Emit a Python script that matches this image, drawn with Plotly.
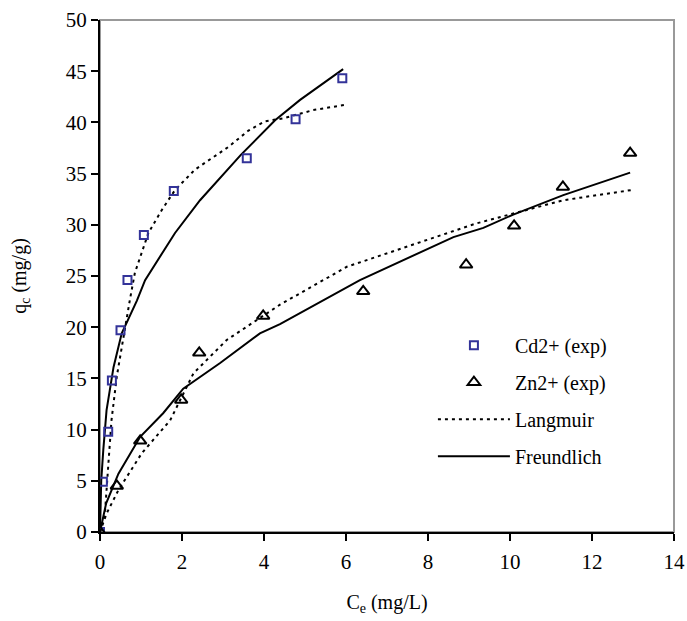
import plotly.graph_objects as go

# Experimental data
cd_x = [0, 0.07, 0.2, 0.29, 0.5, 0.67, 1.07, 1.8, 3.58, 4.77, 5.91]
cd_y = [0, 4.9, 9.8, 14.8, 19.7, 24.6, 29.0, 33.3, 36.5, 40.3, 44.3]
zn_x = [0, 0.41, 0.98, 1.98, 2.42, 3.98, 6.42, 8.93, 10.1, 11.29, 12.93]
zn_y = [0, 4.5, 8.9, 12.9, 17.5, 21.1, 23.5, 26.1, 29.9, 33.7, 37.0]

# Model curves
cd_lang_x = [0, 0.12, 0.2, 0.28, 0.41, 0.57, 0.73, 0.85, 1.18, 1.5, 1.83, 2.32, 3.13, 3.62, 4.02, 4.47, 5.2, 5.95]
cd_lang_y = [0, 1.8, 6.4, 10.9, 15.2, 19.1, 22.7, 25.3, 29.2, 31.4, 33.4, 35.4, 37.6, 39.2, 40.1, 40.4, 41.2, 41.7]
cd_freu_x = [0, 0.03, 0.08, 0.16, 0.33, 0.53, 0.9, 1.1, 1.83, 2.44, 3.43, 4.27, 4.88, 5.93]
cd_freu_y = [0, 5.0, 8.0, 11.9, 16.1, 19.4, 22.6, 24.6, 29.2, 32.4, 36.8, 40.2, 42.2, 45.2]
zn_lang_x = [0, 0.16, 0.45, 1.02, 1.71, 2.28, 3.09, 3.82, 4.39, 6.02, 7.8, 9.15, 10.08, 11.3, 12.97]
zn_lang_y = [0, 1.8, 4.1, 7.7, 10.9, 15.5, 18.75, 20.7, 22.2, 25.9, 28.3, 30.1, 31.1, 32.4, 33.4]
zn_freu_x = [0, 0.15, 0.45, 0.98, 1.54, 2.03, 2.93, 3.9, 4.39, 6.34, 8.62, 9.35, 10.08, 11.3, 12.93]
zn_freu_y = [0, 2.8, 5.7, 9.3, 11.6, 14.0, 16.5, 19.4, 20.3, 24.6, 28.8, 29.7, 31.0, 32.9, 35.1]

x_ticks = [0, 2, 4, 6, 8, 10, 12, 14]
y_ticks = [0, 5, 10, 15, 20, 25, 30, 35, 40, 45, 50]

FONT = "Liberation Serif, Times New Roman, serif"
dot = "3px,4px"

fig = go.Figure()
fig.add_trace(go.Scatter(x=cd_lang_x, y=cd_lang_y, mode="lines", name="Langmuir",
                         legendgroup="c", legendrank=3,
                         line=dict(color="black", width=2, dash=dot)))
fig.add_trace(go.Scatter(x=zn_lang_x, y=zn_lang_y, mode="lines", name="Langmuir",
                         legendgroup="c", showlegend=False,
                         line=dict(color="black", width=2, dash=dot)))
fig.add_trace(go.Scatter(x=cd_freu_x, y=cd_freu_y, mode="lines", name="Freundlich",
                         legendgroup="d", legendrank=4,
                         line=dict(color="black", width=2)))
fig.add_trace(go.Scatter(x=zn_freu_x, y=zn_freu_y, mode="lines", name="Freundlich",
                         legendgroup="d", showlegend=False,
                         line=dict(color="black", width=2)))
fig.add_trace(go.Scatter(x=cd_x, y=cd_y, mode="markers", name="Cd2+ (exp)",
                         legendgroup="a", legendrank=1,
                         marker=dict(symbol="square-open", size=8, color="#333399",
                                     line=dict(width=2, color="#333399"))))
fig.add_trace(go.Scatter(x=zn_x, y=zn_y, mode="markers", name="Zn2+ (exp)",
                         legendgroup="b", legendrank=2,
                         marker=dict(symbol="triangle-up-open", size=11, color="black",
                                     line=dict(width=2, color="black"))))

fig.add_shape(type="rect", xref="paper", yref="paper", x0=0, y0=0, x1=1, y1=1,
              line=dict(color="#999999", width=2), layer="below")

fig.update_layout(
    width=687, height=621,
    margin=dict(l=100, r=13, t=20, b=89, autoexpand=False),
    paper_bgcolor="white", plot_bgcolor="white",
    font=dict(family=FONT, size=20, color="black"),
    showlegend=True,
    legend=dict(x=0.58, y=0.403, xanchor="left", yanchor="top",
                bgcolor="rgba(0,0,0,0)", font=dict(family=FONT, size=20),
                traceorder="grouped", tracegroupgap=8, itemwidth=72),
    xaxis=dict(range=[0, 14], tickvals=x_ticks, showgrid=False, zeroline=False,
               showline=True, linecolor="black", linewidth=2, automargin=False,
               ticks="outside", ticklen=7, tickwidth=2, tickcolor="black",
               ticklabelstandoff=3,
               tickfont=dict(family=FONT, size=21),
               title=dict(text="C<sub>e</sub> (mg/L)", standoff=22,
                          font=dict(family=FONT, size=20))),
    yaxis=dict(range=[0, 50], tickvals=y_ticks, showgrid=False, zeroline=False,
               showline=True, linecolor="black", linewidth=2, automargin=False,
               ticks="outside", ticklen=7, tickwidth=2, tickcolor="black",
               tickfont=dict(family=FONT, size=21),
               title=dict(text="q<sub>c</sub> (mg/g)", standoff=34,
                          font=dict(family=FONT, size=20))),
)

fig.write_html("out.html")
